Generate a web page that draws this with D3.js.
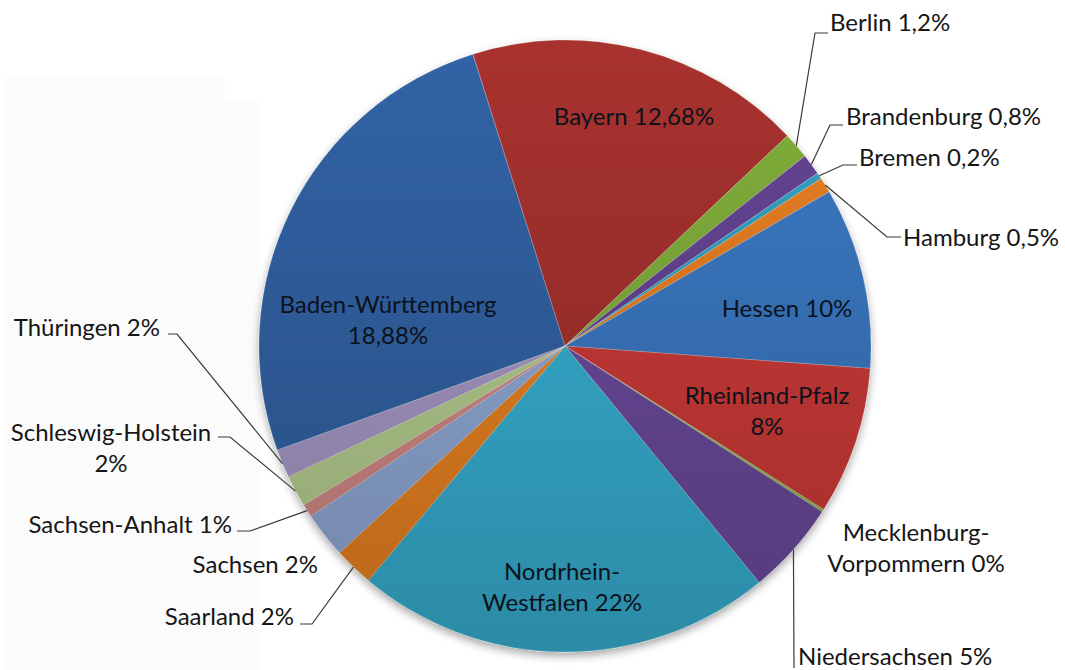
<!DOCTYPE html>
<meta charset="utf-8">
<style>
body { margin: 0; background: #fff; }
svg { display: block; }
.label { font-family: Lato, "Open Sans", sans-serif; font-size: 24px; fill: #161616; }
.inside { fill: #0b121c; }
.leader { fill: none; stroke: #3a3a3a; stroke-width: 1.2; }
</style>
<svg width="1065" height="670"></svg>
<script src="https://cdn.jsdelivr.net/npm/d3@7"></script>
<script>

// slices clockwise, starting with Baden-Württemberg
var states = ["Baden-Württemberg", "Bayern", "Berlin", "Brandenburg", "Bremen", "Hamburg",
  "Hessen", "Rheinland-Pfalz", "Mecklenburg-Vorpommern", "Niedersachsen",
  "Nordrhein-Westfalen", "Saarland", "Sachsen", "Sachsen-Anhalt", "Schleswig-Holstein", "Thüringen"];

// share of the circle as drawn (percent)
var shares = [25.67, 17.81, 1.39, 1.11, 0.33, 0.81, 9.58, 7.81, 0.14, 4.94, 22.06, 2.08, 2.42, 0.69, 1.67, 1.50];

// label text as printed on the chart
var labels = ["Baden-Württemberg\n18,88%", "Bayern 12,68%", "Berlin 1,2%", "Brandenburg 0,8%",
  "Bremen 0,2%", "Hamburg 0,5%", "Hessen 10%", "Rheinland-Pfalz\n8%", "Mecklenburg-\nVorpommern 0%",
  "Niedersachsen 5%", "Nordrhein-\nWestfalen 22%", "Saarland 2%", "Sachsen 2%", "Sachsen-Anhalt 1%",
  "Schleswig-Holstein\n2%", "Thüringen 2%"];

var colors = ["#3064a6", "#a8302e", "#82b03a", "#664596", "#31a3c4", "#ea8020", "#3a79c4", "#cf3a37",
  "#8fbb45", "#6c4c9e", "#37b2d5", "#ec8422", "#92abd7", "#d48b88", "#b7d090", "#a99ac8"];

// label placement (manually dragged in the original)
var layout = {
  "Baden-Württemberg": {x: 388, y: 305, anchor: "middle", inside: true},
  "Bayern": {x: 634, y: 117, anchor: "middle", inside: true},
  "Berlin": {x: 830, y: 23, anchor: "start", leader: [[815, 33], [828, 33]]},
  "Brandenburg": {x: 846, y: 117, anchor: "start", leader: [[830, 125], [843, 125]]},
  "Bremen": {x: 859, y: 158, anchor: "start", leader: [[843, 165], [857, 165]]},
  "Hamburg": {x: 903, y: 238, anchor: "start", leader: [[887, 237], [901, 237]]},
  "Hessen": {x: 787, y: 309, anchor: "middle", inside: true},
  "Rheinland-Pfalz": {x: 767, y: 396, anchor: "middle", inside: true},
  "Mecklenburg-Vorpommern": {x: 916, y: 533, anchor: "middle"},
  "Niedersachsen": {x: 798, y: 657, anchor: "start", leader: [[794, 668]]},
  "Nordrhein-Westfalen": {x: 562, y: 572, anchor: "middle", inside: true},
  "Saarland": {x: 294, y: 617, anchor: "end", leader: [[312, 624], [300, 624]]},
  "Sachsen": {x: 318, y: 565, anchor: "end"},
  "Sachsen-Anhalt": {x: 232, y: 525, anchor: "end", leader: [[250, 531], [237, 531]]},
  "Schleswig-Holstein": {x: 111, y: 433, anchor: "middle", leader: [[230, 437], [218, 437]]},
  "Thüringen": {x: 160, y: 328, anchor: "end", leader: [[177, 334], [168, 334]]}
};

var svg = d3.select("svg"),
    cx = 565, cy = 346, radius = 306, lineH = 31;

var data = states.map(function(s, i) {
  return {state: s, share: shares[i], label: labels[i], color: colors[i]};
});

var start = -109.9 * Math.PI / 180;
var pie = d3.pie().sort(null).value(function(d) { return d.share; })
    .startAngle(start).endAngle(start + 2 * Math.PI);
var arc = d3.arc().innerRadius(0).outerRadius(radius);

var defs = svg.append("defs");
var shadow = defs.append("filter").attr("id", "shadow")
    .attr("x", "-10%").attr("y", "-10%").attr("width", "120%").attr("height", "125%");
shadow.append("feDropShadow").attr("dx", 0).attr("dy", 4).attr("stdDeviation", 4)
    .attr("flood-color", "#000").attr("flood-opacity", 0.35);

var shade = defs.append("linearGradient").attr("id", "shade")
    .attr("gradientUnits", "userSpaceOnUse")
    .attr("x1", 0).attr("y1", cy - radius).attr("x2", 0).attr("y2", cy + radius);
shade.append("stop").attr("offset", "0%").attr("stop-color", "#000").attr("stop-opacity", 0);
shade.append("stop").attr("offset", "100%").attr("stop-color", "#000").attr("stop-opacity", 0.22);

// faint plot-area box behind the left labels
svg.append("path")
    .attr("d", "M5,80 Q5,75 10,75 L220,75 Q225,75 225,80 L225,100 L255,100 Q260,100 260,105 L260,670 L5,670 Z")
    .attr("fill", "#fbfbfb");

var g = svg.append("g").attr("transform", "translate(" + cx + "," + cy + ")");
var arcs = pie(data);

g.append("g").attr("filter", "url(#shadow)")
  .selectAll("path")
  .data(arcs)
  .enter().append("path")
    .attr("d", arc)
    .attr("fill", function(d) { return d.data.color; })
    .attr("stroke", "rgba(255,255,255,0.3)")
    .attr("stroke-width", 0.8);

// darkening towards the bottom of the pie
g.append("circle").attr("r", radius)
    .attr("transform", "translate(" + (-cx) + "," + (-cy) + ")")
    .attr("cx", cx).attr("cy", cy)
    .attr("fill", "url(#shade)");

// leader lines from the rim to the labels
arcs.forEach(function(d) {
  var L = layout[d.data.state];
  if (!L.leader) return;
  var mid = (d.startAngle + d.endAngle) / 2;
  var pts = [[cx + radius * Math.sin(mid), cy - radius * Math.cos(mid)]].concat(L.leader);
  svg.append("path").attr("class", "leader").attr("d", d3.line()(pts));
});

// labels
arcs.forEach(function(d) {
  var L = layout[d.data.state];
  var lines = d.data.label.split("\n");
  var t = svg.append("text")
      .attr("class", "label" + (L.inside ? " inside" : ""))
      .attr("text-anchor", L.anchor)
      .attr("x", L.x)
      .attr("y", L.y + 8);
  lines.forEach(function(line, i) {
    t.append("tspan").attr("x", L.x).attr("dy", i ? lineH : 0).text(line);
  });
});
</script>
